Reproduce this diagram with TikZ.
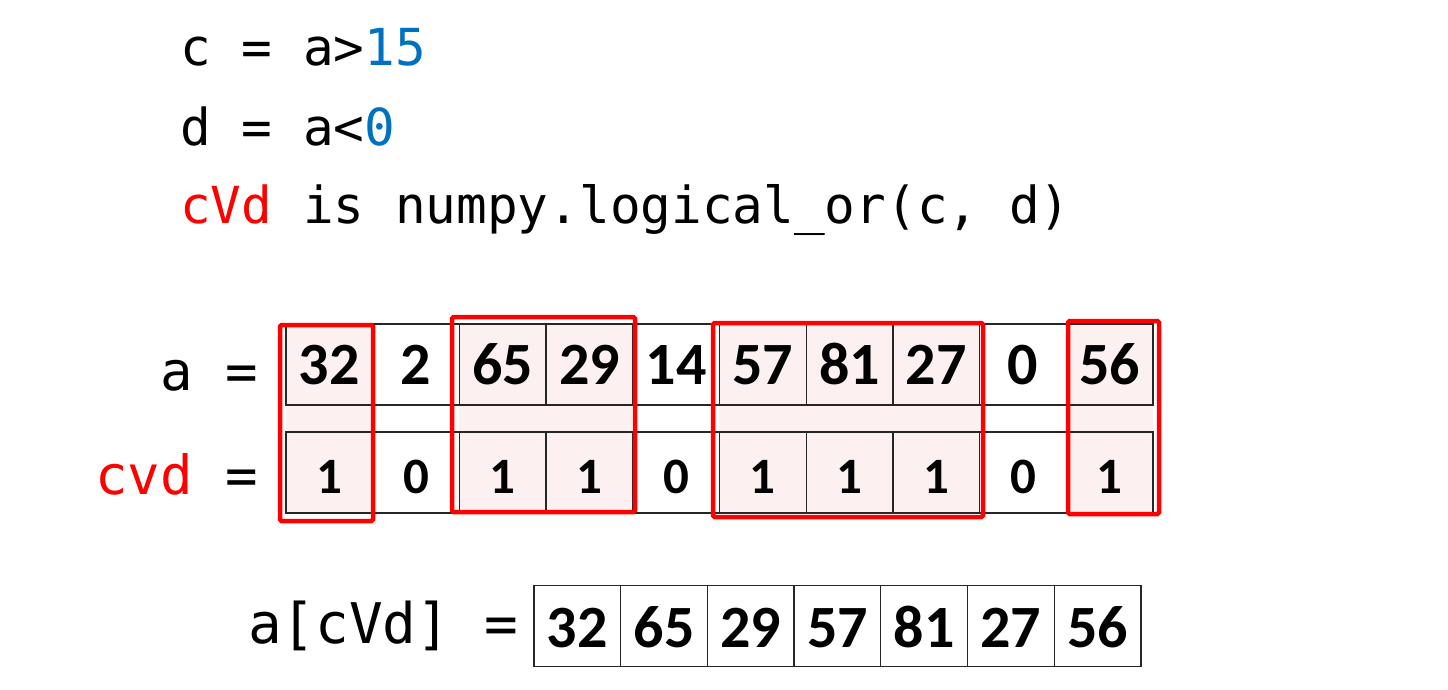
\documentclass[tikz,border=0pt]{standalone}
\usepackage{fontspec}
\usepackage{xcolor}
\setmonofont{DejaVu Sans Mono}
\newfontfamily\numfont{Carlito}
\definecolor{codeblue}{HTML}{0070C0}
\definecolor{lightpink}{HTML}{FDF0F0}

\begin{document}
\begin{tikzpicture}[x=1pt,y=-1pt,
        codeline/.style={anchor=base west,inner sep=0pt,font=\ttfamily\fontsize{51}{51}\selectfont},
        rowlabel/.style={anchor=base east,inner sep=0pt,font=\ttfamily\fontsize{54}{54}\selectfont},
        cell/.style={draw=black!85,line width=1.3pt,minimum width=86.7pt,minimum height=81pt,inner sep=0pt,
            text depth=0pt,font=\numfont\bfseries\fontsize{60}{60}\selectfont},
        smallcell/.style={cell,font=\numfont\bfseries\fontsize{51}{51}\selectfont},
        marked/.style={fill=lightpink},
        redbox/.style={draw=red,line width=4.5pt,rounded corners=1.5pt}]
    \useasboundingbox (0,0) rectangle (1448,689);
    \node[codeline] (line1) at (180,65) {c = a>\textcolor{codeblue}{15}};
    \node[codeline] (line2) at (180,145) {d = a<\textcolor{codeblue}{0}};
    \node[codeline] (line3) at (180,223) {\textcolor{red}{cVd} is numpy.logical\_or(c, d)};
    \fill[lightpink] (286,405) rectangle (373,432);
    \fill[lightpink] (459,405) rectangle (632,432);
    \fill[lightpink] (719,405) rectangle (979,432);
    \fill[lightpink] (1066,405) rectangle (1153,432);
    \foreach \v/\b/\m [count=\i] in {32/1/1, 2/0/0, 65/1/1, 29/1/1, 14/0/0, 57/1/1, 81/1/1, 27/1/1, 0/0/0, 56/1/1} {
        \ifnum\m=1
            \node[cell,marked] (a\i) at (286+86.7*\i-43.35,364.5) {};
            \node[smallcell,marked] (m\i) at (286+86.7*\i-43.35,472.5) {};
        \else
            \node[cell] (a\i) at (286+86.7*\i-43.35,364.5) {};
            \node[smallcell] (m\i) at (286+86.7*\i-43.35,472.5) {};
        \fi
        \node[anchor=base,inner sep=0pt,font=\numfont\bfseries\fontsize{60}{60}\selectfont] (av\i) at (286+86.7*\i-43.35,384) {\v};
        \node[anchor=base,inner sep=0pt,font=\numfont\bfseries\fontsize{51}{51}\selectfont] (mv\i) at (286+86.7*\i-43.35,493) {\b};
    }
    \node[rowlabel] (alabel) at (258,390) {a =};
    \node[rowlabel] (mlabel) at (258,494) {\textcolor{red}{cvd} =};
    \draw[redbox] (280,325) rectangle (373,521);
    \draw[redbox] (452,317) rectangle (635,512);
    \draw[redbox] (713,323) rectangle (983,517);
    \draw[redbox] (1068,321) rectangle (1159,514);
    \foreach \v [count=\i] in {32,65,29,57,81,27,56} {
        \node[cell] (r\i) at (534+86.7*\i-43.35,626) {};
        \node[anchor=base,inner sep=0pt,font=\numfont\bfseries\fontsize{60}{60}\selectfont] (rv\i) at (534+86.7*\i-43.35,647) {\v};
    }
    \node[rowlabel,font=\ttfamily\fontsize{56}{56}\selectfont] (rlabel) at (518,643) {a[cVd] =};
\end{tikzpicture}
\end{document}
